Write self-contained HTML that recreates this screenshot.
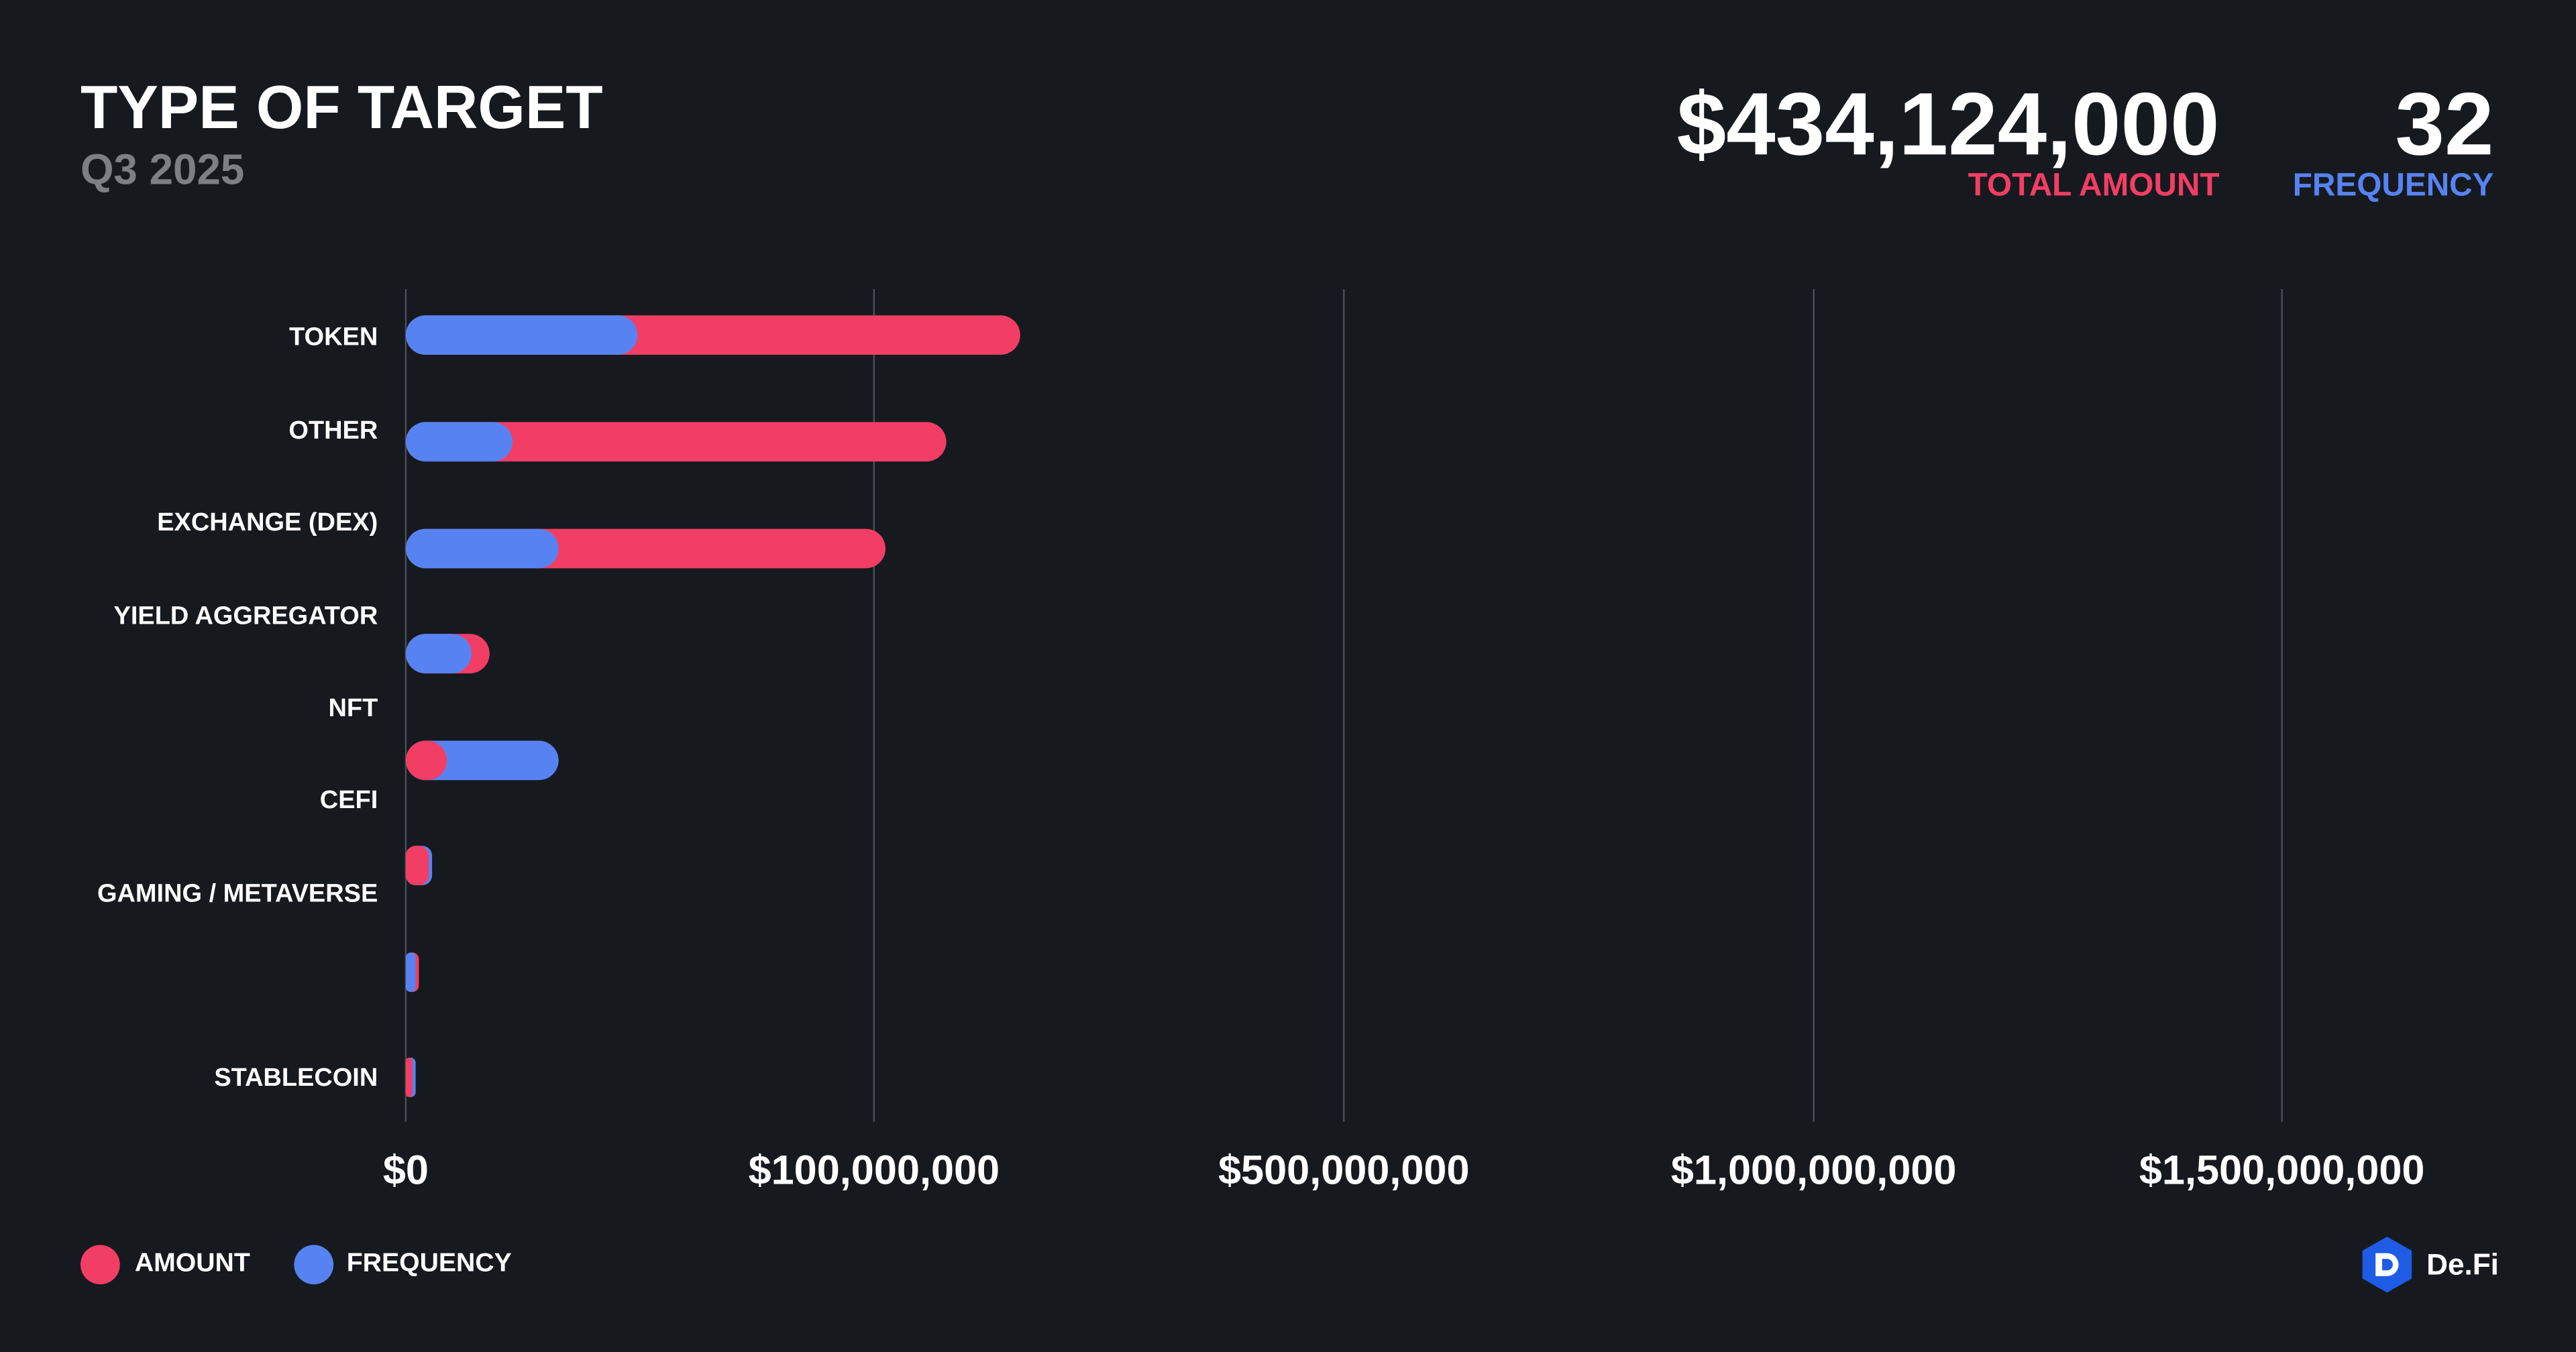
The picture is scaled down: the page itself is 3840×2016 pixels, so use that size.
<!DOCTYPE html>
<html><head><meta charset="utf-8"><style>
html,body{margin:0;padding:0;background:#161a1f;}
body{width:3840px;height:2016px;overflow:hidden;}
#w{width:1568px;height:823px;transform:scale(2.44898);transform-origin:0 0;position:relative;font-family:"Liberation Sans",sans-serif;color:#fff;}
.t{position:absolute;white-space:nowrap;font-weight:bold;}
.lab{position:absolute;right:1338px;font-size:15.5px;font-weight:bold;white-space:nowrap;transform:translateY(-50%);margin-top:2px;}
.xl{position:absolute;top:699px;font-size:25px;font-weight:bold;transform:translateX(-50%);white-space:nowrap;}
</style></head><body><div id="w">
<div class="t" style="left:49px;top:45px;font-size:37px;">TYPE OF TARGET</div>
<div class="t" style="left:49px;top:88px;font-size:26px;color:#7d7f82;">Q3 2025</div>
<div class="t" style="right:217px;top:45px;font-size:54px;">$434,124,000</div>
<div class="t" style="right:50px;top:45px;font-size:54px;">32</div>
<div class="t" style="right:217px;top:102px;font-size:19.5px;color:#f23e64;">TOTAL AMOUNT</div>
<div class="t" style="right:50px;top:102px;font-size:19.5px;color:#5783f2;">FREQUENCY</div>
<svg style="position:absolute;left:0;top:0" width="1568" height="823">
<g stroke="#4a4f56" stroke-width="1">
<line x1="247" y1="176" x2="247" y2="683"/><line x1="532" y1="176" x2="532" y2="683"/>
<line x1="818" y1="176" x2="818" y2="683"/><line x1="1104" y1="176" x2="1104" y2="683"/>
<line x1="1389" y1="176" x2="1389" y2="683"/></g>
<g>
<rect x="247" y="192" width="374" height="24" rx="12" fill="#f23e64"/><rect x="247" y="192" width="141" height="24" rx="12" fill="#5783f2"/>
<rect x="247" y="257" width="329" height="24" rx="12" fill="#f23e64"/><rect x="247" y="257" width="65" height="24" rx="12" fill="#5783f2"/>
<rect x="247" y="322" width="292" height="24" rx="12" fill="#f23e64"/><rect x="247" y="322" width="93" height="24" rx="12" fill="#5783f2"/>
<rect x="247" y="386" width="51" height="24" rx="12" fill="#f23e64"/><rect x="247" y="386" width="40" height="24" rx="12" fill="#5783f2"/>
<rect x="247" y="451" width="93" height="24" rx="12" fill="#5783f2"/><rect x="247" y="451" width="25" height="24" rx="12" fill="#f23e64"/>
<rect x="247" y="515" width="16" height="24" rx="6" fill="#5783f2"/><rect x="247" y="515" width="14" height="24" rx="6" fill="#f23e64"/>
<rect x="247" y="580" width="8" height="24" rx="4" fill="#f23e64"/><rect x="247" y="580" width="6" height="24" rx="3" fill="#5783f2"/>
<rect x="247" y="644" width="6" height="24" rx="3" fill="#5783f2"/><rect x="247" y="644" width="4" height="24" rx="2" fill="#f23e64"/>
</g>
<circle cx="61" cy="770" r="12" fill="#f23e64"/><circle cx="191" cy="770" r="12" fill="#5783f2"/>
<polygon points="1453,753 1468,761.5 1468,778.5 1453,787 1438,778.5 1438,761.5" fill="#1f5ce6"/>
<path d="M1446,763 h7 a7,7 0 0 1 0,14 h-7 z" fill="#fff"/><path d="M1450,766.5 h3 a3.5,3.5 0 0 1 0,7 h-3 z" fill="#1f5ce6"/>
</svg>
<div class="lab" style="top:204px">TOKEN</div>
<div class="lab" style="top:261px">OTHER</div>
<div class="lab" style="top:317px">EXCHANGE (DEX)</div>
<div class="lab" style="top:374px">YIELD AGGREGATOR</div>
<div class="lab" style="top:430px">NFT</div>
<div class="lab" style="top:486px">CEFI</div>
<div class="lab" style="top:543px">GAMING / METAVERSE</div>
<div class="lab" style="top:655px">STABLECOIN</div>
<div class="xl" style="left:247px">$0</div>
<div class="xl" style="left:532px">$100,000,000</div>
<div class="xl" style="left:818px">$500,000,000</div>
<div class="xl" style="left:1104px">$1,000,000,000</div>
<div class="xl" style="left:1389px">$1,500,000,000</div>
<div class="t" style="left:82px;top:761px;font-size:16px;">AMOUNT</div>
<div class="t" style="left:211px;top:761px;font-size:16px;">FREQUENCY</div>
<div class="t" style="left:1477px;top:760px;font-size:18px;">De.Fi</div>
</div></body></html>
